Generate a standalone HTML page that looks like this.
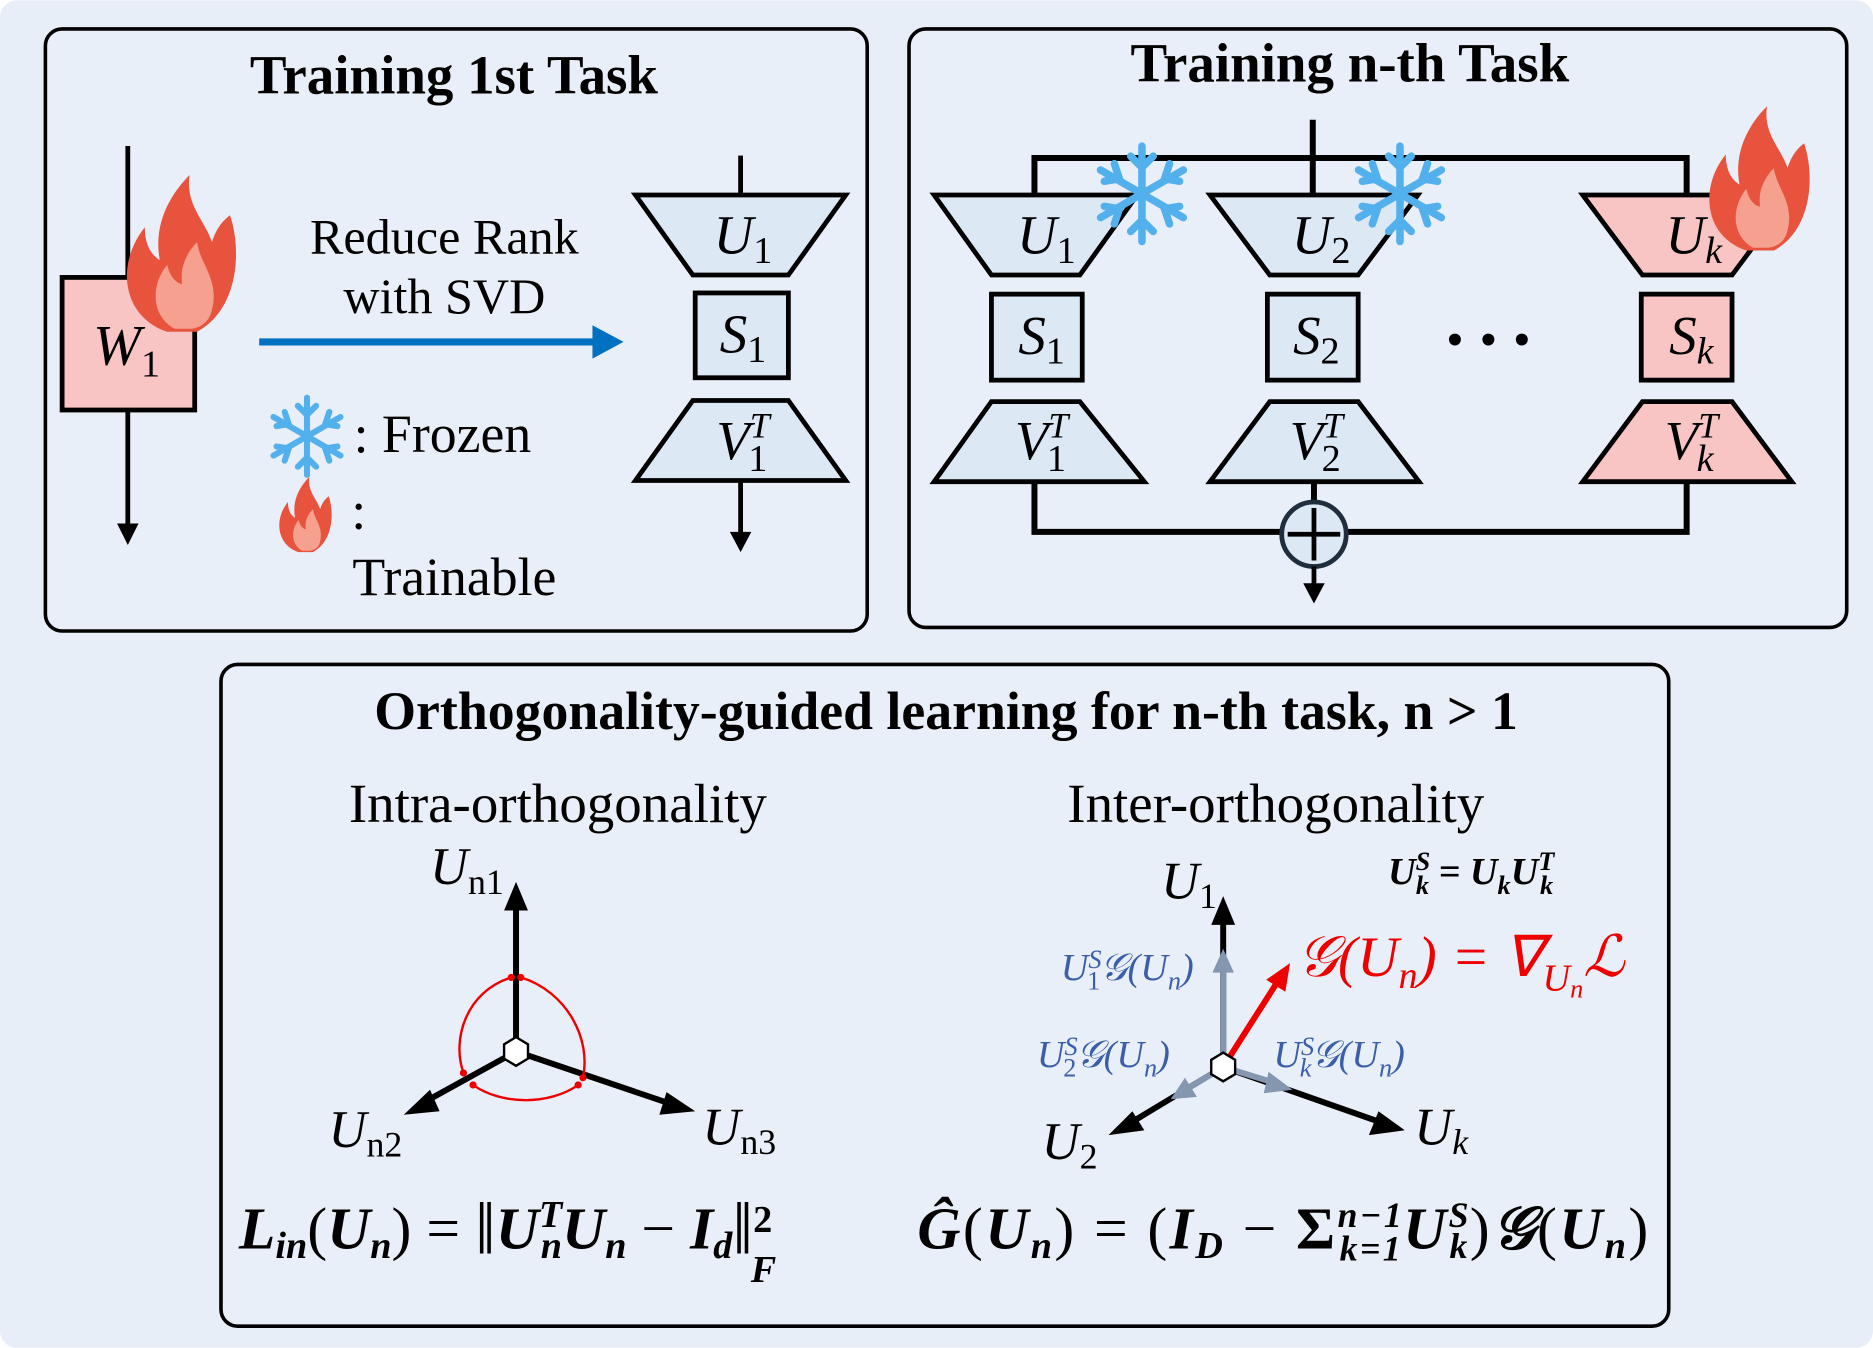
<!DOCTYPE html>
<html><head><meta charset="utf-8"><style>
html,body{margin:0;padding:0;background:#fff}
svg{display:block}
text{font-family:"Liberation Serif",serif}
</style></head><body>
<svg width="1873" height="1348" viewBox="0 0 1568 1128" xmlns="http://www.w3.org/2000/svg">
<defs>
<g id="fire">
<path d="M0,50 C-30,40 -35,5 -15,-20 C-15,-5 -8,0 -5,2 C-10,-25 5,-45 15,-55 C12,-35 25,-25 30,-10 C33,-20 38,-25 42,-28 C50,-5 48,35 20,50 Z" fill="#e8533e"/>
<path d="M5,48 C-10,40 -12,20 0,5 C2,15 8,18 10,18 C8,5 15,-5 20,-10 C22,5 35,15 30,35 C28,45 20,48 15,48 Z" fill="#f6a08f"/>
</g>
<g id="snow" stroke="#52b0ec" stroke-width="6" stroke-linecap="round" fill="none">
<path d="M0,-38 V38 M-33,-19 L33,19 M-33,19 L33,-19"/>
<path d="M-9,-30 L0,-21 L9,-30 M-9,30 L0,21 L9,30 M-30,-10 L-18,-12 L-22,-24 M30,10 L18,12 L22,24 M-30,10 L-18,12 L-22,24 M30,-10 L18,-12 L22,-24"/>
</g>
</defs>
<rect x="0" y="0" width="1568" height="1128" rx="14" fill="#e8eef7"/>
<rect x="38" y="24" width="688" height="504" rx="14" fill="#e9eff8" stroke="#000" stroke-width="3"/>
<rect x="761" y="24" width="785" height="501" rx="14" fill="#e9eff8" stroke="#000" stroke-width="3"/>
<rect x="185" y="556" width="1212" height="554" rx="14" fill="#e9eff8" stroke="#000" stroke-width="3"/>

<!-- Panel 1 -->
<text x="380" y="78" font-size="46" font-weight="bold" text-anchor="middle">Training 1st Task</text>
<line x1="107" y1="122" x2="107" y2="440" stroke="#000" stroke-width="4"/>
<path d="M98,438 L116,438 L107,456Z"/>
<rect x="52" y="232" width="111" height="111" fill="#f8c4c4" stroke="#000" stroke-width="4"/>
<text x="106" y="305" font-size="48" font-style="italic" text-anchor="middle">W<tspan font-size="32" font-style="normal" dy="10">1</tspan></text>
<use href="#fire" transform="translate(140,215) scale(1.25)"/>
<text x="372" y="212" font-size="42" text-anchor="middle">Reduce Rank</text>
<text x="372" y="262" font-size="42" text-anchor="middle">with SVD</text>
<line x1="217" y1="286" x2="498" y2="286" stroke="#0070c0" stroke-width="6"/>
<path d="M496,272 L522,286 L496,300Z" fill="#0070c0"/>
<use href="#snow" transform="translate(257,365) scale(0.85)"/>
<text x="296" y="378" font-size="45">: Frozen</text>
<use href="#fire" transform="translate(250,432) scale(0.6)"/>
<text x="294" y="442" font-size="45">:</text>
<text x="295" y="498" font-size="45">Trainable</text>
<line x1="620" y1="130" x2="620" y2="163" stroke="#000" stroke-width="4"/>
<path d="M532,163 L708,163 L660,230 L580,230Z" fill="#dde8f5" stroke="#000" stroke-width="4"/>
<text x="622" y="212" font-size="46" font-style="italic" text-anchor="middle">U<tspan font-size="32" font-style="normal" dy="8">1</tspan></text>
<rect x="582" y="245" width="78" height="71" fill="#dde8f5" stroke="#000" stroke-width="4"/>
<text x="622" y="295" font-size="46" font-style="italic" text-anchor="middle">S<tspan font-size="32" font-style="normal" dy="8">1</tspan></text>
<path d="M580,335 L660,335 L708,402 L532,402Z" fill="#dde8f5" stroke="#000" stroke-width="4"/>
<text x="622" y="384" font-size="46" font-style="italic" text-anchor="middle">V<tspan font-size="30" dy="-18">T</tspan><tspan font-size="32" font-style="normal" dx="-18" dy="28">1</tspan></text>
<line x1="620" y1="402" x2="620" y2="446" stroke="#000" stroke-width="4"/>
<path d="M611,445 L629,445 L620,462Z"/>

<!-- Panel 2 -->
<text x="1130" y="68" font-size="46" font-weight="bold" text-anchor="middle">Training n-th Task</text>
<path d="M1099,100 V163 M866,163 V132 H1412 V163" fill="none" stroke="#000" stroke-width="5"/>
<path d="M866,403 V445 H1412 V403 M1100,403 V420" fill="none" stroke="#000" stroke-width="5"/>
<g stroke="#000" stroke-width="4">
<path d="M782,163 L952,163 L904,230 L830,230Z" fill="#dde8f5"/>
<rect x="830" y="246" width="76" height="72" fill="#dde8f5"/>
<path d="M830,336 L904,336 L958,403 L782,403Z" fill="#dde8f5"/>
<path d="M1013,163 L1187,163 L1137,230 L1063,230Z" fill="#dde8f5"/>
<rect x="1061" y="246" width="76" height="72" fill="#dde8f5"/>
<path d="M1063,336 L1137,336 L1188,403 L1013,403Z" fill="#dde8f5"/>
<path d="M1325,163 L1500,163 L1450,230 L1375,230Z" fill="#f8c4c4"/>
<rect x="1374" y="246" width="76" height="72" fill="#f8c4c4"/>
<path d="M1375,336 L1450,336 L1500,403 L1325,403Z" fill="#f8c4c4"/>
</g>
<g font-size="46" font-style="italic" text-anchor="middle">
<text x="876" y="212">U<tspan font-size="32" font-style="normal" dy="8">1</tspan></text>
<text x="872" y="296">S<tspan font-size="32" font-style="normal" dy="8">1</tspan></text>
<text x="872" y="384">V<tspan font-size="30" dy="-18">T</tspan><tspan font-size="32" font-style="normal" dx="-18" dy="28">1</tspan></text>
<text x="1106" y="212">U<tspan font-size="32" font-style="normal" dy="8">2</tspan></text>
<text x="1102" y="296">S<tspan font-size="32" font-style="normal" dy="8">2</tspan></text>
<text x="1102" y="384">V<tspan font-size="30" dy="-18">T</tspan><tspan font-size="32" font-style="normal" dx="-18" dy="28">2</tspan></text>
<text x="1418" y="212">U<tspan font-size="32" dy="8">k</tspan></text>
<text x="1416" y="296">S<tspan font-size="32" dy="8">k</tspan></text>
<text x="1416" y="384">V<tspan font-size="30" dy="-18">T</tspan><tspan font-size="32" dx="-18" dy="28">k</tspan></text>
</g>
<g fill="#000"><circle cx="1218" cy="284" r="5"/><circle cx="1246" cy="284" r="5"/><circle cx="1274" cy="284" r="5"/></g>
<use href="#snow" transform="translate(956,162) scale(1.05)"/>
<use href="#snow" transform="translate(1172,162) scale(1.05)"/>
<use href="#fire" transform="translate(1462,152) scale(1.15)"/>
<circle cx="1100" cy="447" r="27" fill="#dde8f5" stroke="#1f2d3d" stroke-width="4"/>
<path d="M1100,425 V469 M1078,447 H1122" stroke="#000" stroke-width="4"/>
<line x1="1100" y1="474" x2="1100" y2="490" stroke="#000" stroke-width="4"/>
<path d="M1091,488 L1109,488 L1100,505Z"/>

<!-- Panel 3 -->
<text x="792" y="610" font-size="45" font-weight="bold" text-anchor="middle">Orthogonality-guided learning for n-th task, n &gt; 1</text>
<text x="467" y="688" font-size="46" text-anchor="middle">Intra-orthogonality</text>
<text x="1068" y="688" font-size="46" text-anchor="middle">Inter-orthogonality</text>
<g stroke="#000" stroke-width="5">
<line x1="432" y1="880" x2="432" y2="758"/>
<line x1="432" y1="880" x2="356" y2="922"/>
<line x1="432" y1="880" x2="562" y2="924"/>
</g>
<path d="M422,762 L432,738 L442,762Z"/>
<path d="M360,912 L338,933 L368,930Z"/>
<path d="M558,914 L582,930 L552,933Z"/>
<g fill="none" stroke="#e00" stroke-width="2">
<path d="M428,818 C390,830 378,870 388,898"/>
<path d="M436,818 C475,830 495,870 488,902"/>
<path d="M396,908 C420,925 460,925 484,908"/>
</g>
<g fill="#e00"><circle cx="428" cy="818" r="3"/><circle cx="436" cy="818" r="3"/><circle cx="388" cy="898" r="3"/><circle cx="488" cy="902" r="3"/><circle cx="396" cy="908" r="3"/><circle cx="484" cy="908" r="3"/></g>
<path d="M432,868 L442,874 L442,886 L432,892 L422,886 L422,874Z" fill="#fff" stroke="#000" stroke-width="2"/>
<g font-size="44" font-style="italic">
<text x="360" y="740">U<tspan font-size="30" font-style="normal" dy="8">n1</tspan></text>
<text x="275" y="960">U<tspan font-size="30" font-style="normal" dy="8">n2</tspan></text>
<text x="588" y="958">U<tspan font-size="30" font-style="normal" dy="8">n3</tspan></text>
</g>
<g stroke="#000" stroke-width="5">
<line x1="1024" y1="893" x2="1024" y2="770"/>
<line x1="1024" y1="893" x2="946" y2="940"/>
<line x1="1024" y1="893" x2="1158" y2="940"/>
</g>
<path d="M1014,774 L1024,750 L1034,774Z"/>
<path d="M948,930 L928,950 L958,946Z"/>
<path d="M1154,930 L1176,946 L1146,950Z"/>
<g stroke="#8496b0" stroke-width="5">
<line x1="1024" y1="890" x2="1024" y2="812"/>
<line x1="1024" y1="893" x2="996" y2="910"/>
<line x1="1024" y1="893" x2="1066" y2="906"/>
</g>
<path d="M1015,814 L1024,794 L1033,814Z" fill="#8496b0"/>
<path d="M992,902 L980,920 L1002,918Z" fill="#8496b0"/>
<path d="M1062,897 L1082,912 L1058,915Z" fill="#8496b0"/>
<line x1="1024" y1="893" x2="1068" y2="824" stroke="#e00" stroke-width="5"/>
<path d="M1060,820 L1080,806 L1076,830Z" fill="#e00"/>
<path d="M1024,881 L1034,887 L1034,899 L1024,905 L1014,899 L1014,887Z" fill="#fff" stroke="#000" stroke-width="2"/>
<g font-size="44" font-style="italic">
<text x="972" y="752">U<tspan font-size="30" font-style="normal" dy="8">1</tspan></text>
<text x="872" y="970">U<tspan font-size="30" font-style="normal" dy="8">2</tspan></text>
<text x="1184" y="958">U<tspan font-size="30" dy="8">k</tspan></text>
</g>
<text x="1162" y="740" font-size="32" font-weight="bold" font-style="italic">U<tspan font-size="22" dy="-12">S</tspan><tspan font-size="22" dx="-12" dy="20">k</tspan><tspan dy="-8"> = U</tspan><tspan font-size="22" dy="8">k</tspan><tspan dy="-8">U</tspan><tspan font-size="22" dy="-12">T</tspan><tspan font-size="22" dx="-12" dy="20">k</tspan></text>
<g fill="#3a5ea8" font-size="32" font-style="italic">
<text x="888" y="820">U<tspan font-size="22" dy="-10">S</tspan><tspan font-size="22" font-style="normal" dx="-12" dy="18">1</tspan><tspan dy="-8">𝒢(U</tspan><tspan font-size="22" dy="8">n</tspan><tspan dy="-8">)</tspan></text>
<text x="868" y="893">U<tspan font-size="22" dy="-10">S</tspan><tspan font-size="22" font-style="normal" dx="-12" dy="18">2</tspan><tspan dy="-8">𝒢(U</tspan><tspan font-size="22" dy="8">n</tspan><tspan dy="-8">)</tspan></text>
<text x="1066" y="893">U<tspan font-size="22" dy="-10">S</tspan><tspan font-size="22" dx="-12" dy="18">k</tspan><tspan dy="-8">𝒢(U</tspan><tspan font-size="22" dy="8">n</tspan><tspan dy="-8">)</tspan></text>
</g>
<text x="1086" y="817" fill="#e00" font-size="48" font-style="italic">𝒢(U<tspan font-size="32" dy="10">n</tspan><tspan dy="-10">) = ∇</tspan><tspan font-size="32" dy="12">U</tspan><tspan font-size="22" dy="6">n</tspan><tspan dy="-18">ℒ</tspan></text>
<text x="200" y="1045" font-size="50" font-weight="bold" font-style="italic">L<tspan font-size="32" dy="8">in</tspan><tspan dy="-8" font-weight="normal" font-style="normal">(</tspan>U<tspan font-size="32" dy="8">n</tspan><tspan dy="-8" font-weight="normal" font-style="normal">) = </tspan><tspan font-size="62" font-weight="normal" font-style="normal" dy="4">‖</tspan><tspan dy="-4">U</tspan><tspan font-size="32" dy="-18">T</tspan><tspan font-size="32" dx="-18" dy="26">n</tspan><tspan dy="-8">U</tspan><tspan font-size="32" dy="8">n</tspan><tspan dy="-8" font-weight="normal" font-style="normal"> − </tspan>I<tspan font-size="32" dy="8">d</tspan><tspan font-size="62" font-weight="normal" font-style="normal" dy="-4">‖</tspan><tspan font-size="32" font-style="normal" dy="-18">2</tspan><tspan font-size="32" dx="-18" dy="42">F</tspan></text>
<text x="768" y="1045" font-size="50" font-weight="bold" font-style="italic" letter-spacing="2">Ĝ<tspan font-weight="normal" font-style="normal">(</tspan>U<tspan font-size="32" dy="8">n</tspan><tspan dy="-8" font-weight="normal" font-style="normal">) =  (</tspan>I<tspan font-size="32" dy="8">D</tspan><tspan dy="-8" font-weight="normal" font-style="normal"> − </tspan><tspan font-style="normal">Σ</tspan><tspan font-size="30" dy="-18">n−1</tspan><tspan font-size="30" dx="-54" dy="28">k=1</tspan><tspan dy="-10">U</tspan><tspan font-size="30" dy="-18">S</tspan><tspan font-size="30" dx="-18" dy="26">k</tspan><tspan dy="-8" font-weight="normal" font-style="normal">)</tspan>𝒢<tspan font-weight="normal" font-style="normal">(</tspan>U<tspan font-size="32" dy="8">n</tspan><tspan dy="-8" font-weight="normal" font-style="normal">)</tspan></text>
</svg>
</body></html>
